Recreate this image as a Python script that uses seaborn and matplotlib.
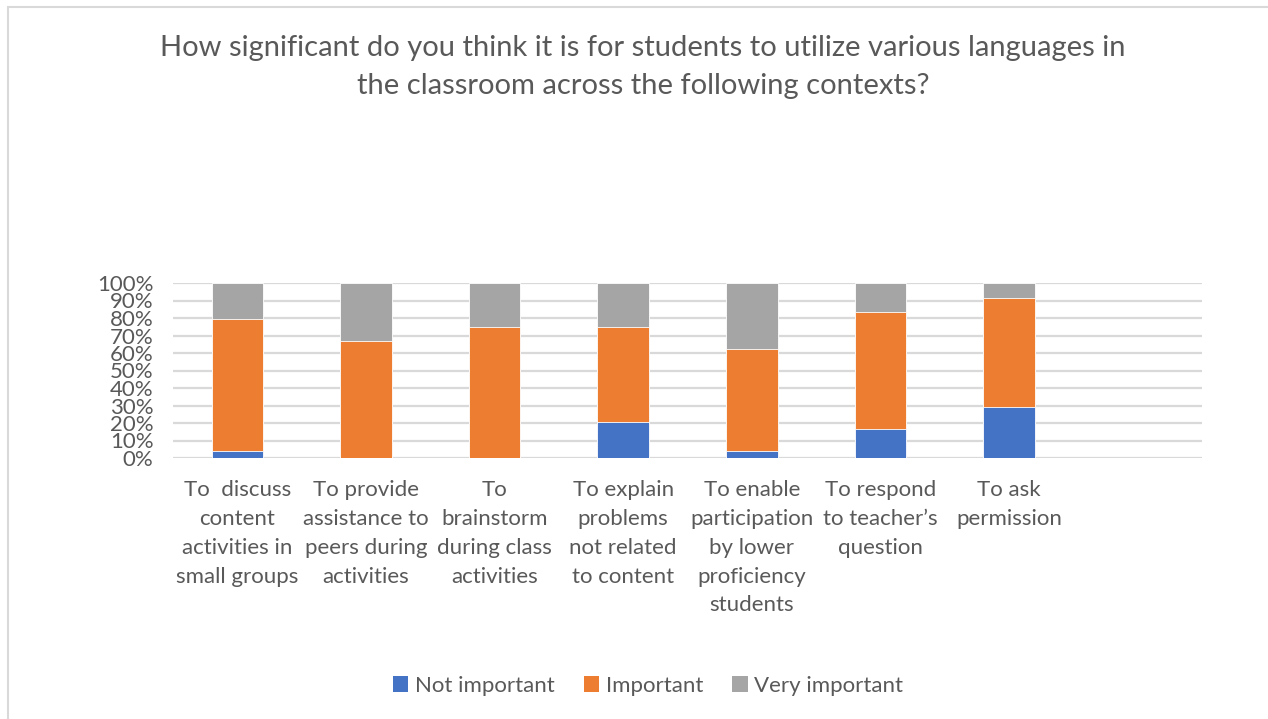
import matplotlib
matplotlib.use("Agg")
import matplotlib.pyplot as plt
from matplotlib.patches import Rectangle
import seaborn as sns
import pandas as pd
import numpy as np

# Survey contexts (x categories) and response shares (%)
contexts = [
    "To  discuss\ncontent\nactivities in\nsmall groups",
    "To provide\nassistance to\npeers during\nactivities",
    "To\nbrainstorm\nduring class\nactivities",
    "To explain\nproblems\nnot related\nto content",
    "To enable\nparticipation\nby lower\nproficiency\nstudents",
    "To respond\nto teacher\u2019s\nquestion",
    "To ask\npermission",
]
not_important = [4.2, 0.0, 0.0, 20.8, 4.2, 16.7, 29.2]
important = [75.0, 66.7, 75.0, 54.2, 58.3, 66.7, 62.5]
very_important = [20.8, 33.3, 25.0, 25.0, 37.5, 16.7, 8.3]

series_names = ["Not important", "Important", "Very important"]
series_colors = ["#4472C4", "#ED7D31", "#A5A5A5"]
yticks = np.arange(0, 101, 10)

TEXT = "#595959"
FONT = ["Lato", "DejaVu Sans"]

sns.set_theme(style="white")
plt.rcParams["font.family"] = FONT

fig = plt.figure(figsize=(12.68, 7.19), dpi=100)
ax = fig.add_axes([173 / 1268, 1 - 458 / 719, (1202 - 173) / 1268, 175 / 719])

# Outer chart frame
fig.patches.append(Rectangle((8 / 1268, -0.01), 1.02, 1 - 7 / 719 + 0.01,
                             transform=fig.transFigure, fill=False,
                             edgecolor="#D9D9D9", linewidth=1.5, zorder=0))

df = pd.DataFrame({
    "context": contexts,
    "Not important": not_important,
    "Important": important,
    "Very important": very_important,
})
df["c1"] = df["Not important"]
df["c2"] = df["c1"] + df["Important"]
df["c3"] = df["c2"] + df["Very important"]

# Stacked bars: draw cumulative totals from the top layer down
for col, color in zip(["c3", "c2", "c1"], series_colors[::-1]):
    sns.barplot(data=df, x="context", y=col, order=contexts, color=color,
                width=0.4, saturation=1, edgecolor="white", linewidth=0.6,
                ax=ax, zorder=3)

ax.set_xlim(-0.5, 7.5)
ax.set_ylim(0, 100)
ax.set_yticks(yticks)
ax.set_yticklabels([f"{v}%" for v in yticks], fontsize=16, color=TEXT)
ax.tick_params(axis="y", length=0, pad=14)
ax.tick_params(axis="x", length=0, pad=16)
for lbl in ax.get_xticklabels():
    lbl.set_fontsize(16)
    lbl.set_color(TEXT)
    lbl.set_linespacing(1.55)
    lbl.set_verticalalignment("top")
ax.set_xlabel("")
ax.set_ylabel("")
ax.grid(axis="y", color="#D9D9D9", linewidth=1.6, zorder=0)
ax.set_axisbelow(True)
for s in ax.spines.values():
    s.set_visible(False)

fig.text(643 / 1268, 1 - 67 / 719,
         "How significant do you think it is for students to utilize various languages in\n"
         "the classroom across the following contexts?",
         ha="center", va="center", fontsize=21, color=TEXT, linespacing=1.55)

handles = [Rectangle((0, 0), 1, 1, facecolor=c, edgecolor="none") for c in series_colors]
fig.legend(handles, series_names, loc="center", bbox_to_anchor=(648 / 1268, 1 - 686 / 719),
           ncol=3, frameon=False, fontsize=16, labelcolor=TEXT,
           handlelength=0.7, handleheight=0.7, handletextpad=0.3, columnspacing=1.3)

fig.savefig("out.png", dpi=100, facecolor="white")
